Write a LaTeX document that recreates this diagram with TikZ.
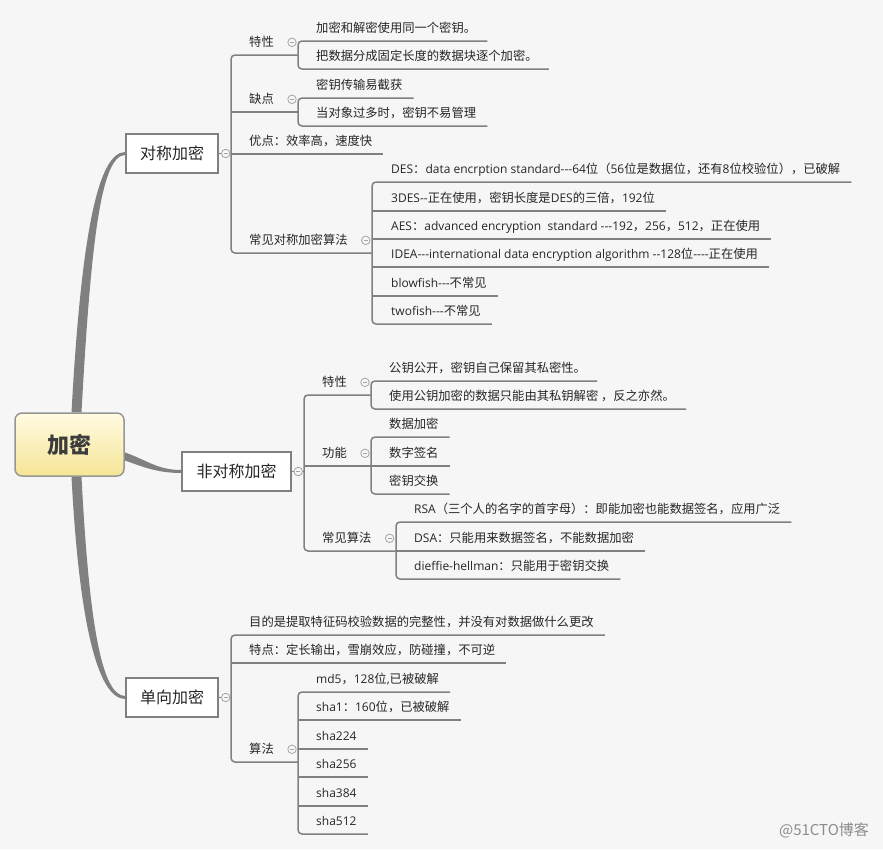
\documentclass[tikz,border=0pt]{standalone}
\usepackage{fontspec}
\setmainfont{Noto Sans CJK SC}
\newfontfamily\latfont{Open Sans}
\newcommand\Lx[1]{{\latfont\fontsize{12}{14}\selectfont #1}}
\usetikzlibrary{backgrounds}
\definecolor{bg}{RGB}{246,246,246}
\definecolor{ln}{RGB}{128,128,128}
\definecolor{tx}{RGB}{38,38,38}
\definecolor{tg}{RGB}{165,165,165}
\definecolor{rtop}{RGB}{255,251,226}
\definecolor{rbot}{RGB}{245,229,150}
\definecolor{rbd}{RGB}{150,150,150}
\definecolor{wm}{RGB}{140,140,140}
\begin{document}
\begin{tikzpicture}[x=1pt,y=-1pt,
  leaf/.style={anchor=south west,inner xsep=0pt,inner ysep=0pt,text height=10.5pt,text depth=1.5pt,minimum height=25pt,font=\fontsize{12.3}{14}\selectfont,text=tx},
  conn/.style={draw=ln,line width=1.5pt},
  trunk/.style={conn,rounded corners=4pt},
  branch/.style={rectangle,draw=ln,line width=1.5pt,fill=white,minimum height=39pt,inner sep=0pt,font=\fontsize{16}{19}\selectfont,text=tx},
  rootbox/.style={rectangle,draw=rbd,line width=1.5pt,rounded corners=7pt,top color=rtop,bottom color=rbot,minimum width=109pt,minimum height=63pt,inner sep=0pt,font=\fontsize{22}{26}\selectfont\bfseries,text=tx!90},
  tog/.style={circle,draw=tg,fill=bg,line width=0.8pt,minimum size=8.5pt,inner sep=0pt,path picture={\draw[tg,line width=0.8pt] ([xshift=-2pt]path picture bounding box.center) -- ([xshift=2pt]path picture bounding box.center);}}
]
\useasboundingbox (0,0) rectangle (883,849);
% root and branches
\node[rootbox] (r) at (69.5,444.5) {加密};
\node[branch,minimum width=92pt] (b1) at (172,153.5) {对称加密};
\node[branch,minimum width=109pt] (b2) at (236.5,471.5) {非对称加密};
\node[branch,minimum width=92pt] (b3) at (172,697.5) {单向加密};
\begin{scope}[on background layer]
\fill[bg] (0,0) rectangle (883,849);
\fill[ln] ([xshift=2pt]r.north) .. controls +(9.5,-173) and +(-28,0) .. ([yshift=1.5pt]b1.west) -- ([yshift=-1.5pt]b1.west) .. controls +(-24,0) and +(9.5,-173) .. ([xshift=12pt]r.north) -- cycle;
\fill[ln] ([xshift=2pt]r.south) .. controls +(7.5,144) and +(-28,0) .. ([yshift=-1.5pt]b3.west) -- ([yshift=1.5pt]b3.west) .. controls +(-24,0) and +(7.5,144) .. ([xshift=12pt]r.south) -- cycle;
\fill[ln] ([xshift=-4pt,yshift=-6.5pt]r.east) .. controls +(25,8) and +(-25,0) .. ([yshift=1.5pt]b2.west) -- ([yshift=-1.5pt]b2.west) .. controls +(-25,0) and +(20,7) .. ([xshift=-4pt,yshift=-14.5pt]r.east) -- cycle;
\end{scope}
% trunk positions
\coordinate (T1) at (231,0);
\coordinate (T11) at (298,0);
\coordinate (T14) at (372,0);
\coordinate (T2) at (304,0);
\coordinate (T21) at (371,0);
\coordinate (T23) at (396,0);
\coordinate (T3) at (231,0);
\coordinate (T33) at (298,0);
% branch 1
\node[leaf] (s1) at (249,55) {特性};
\node[leaf] (s2) at (249,112) {缺点};
\node[leaf] (s3) at (249,154) {优点：效率高，速度快};
\node[leaf] (s4) at (249,253) {常见对称加密算法};
\node[leaf] (s11) at (316,41) {加密和解密使用同一个密钥。};
\node[leaf] (s12) at (316,69) {把数据分成固定长度的数据块逐个加密。};
\node[leaf] (s21) at (316,98) {密钥传输易截获};
\node[leaf] (s22) at (316,126) {当对象过多时，密钥不易管理};
\node[leaf] (s41) at (391,182) {\Lx{DES}：\Lx{data encrption standard-{}-{}-64}位（\Lx{56}位是数据位，还有\Lx{8}位校验位），已破解};
\node[leaf] (s42) at (391,211) {\Lx{3DES-{}-}正在使用，密钥长度是\Lx{DES}的三倍，\Lx{192}位};
\node[leaf] (s43) at (391,239) {\Lx{AES}：\Lx{advanced encryption~ standard -{}-{}-192}，\Lx{256}，\Lx{512}，正在使用};
\node[leaf] (s44) at (391,267) {\Lx{IDEA-{}-{}-international data encryption algorithm -{}-128}位\Lx{-{}-{}-{}-}正在使用};
\node[leaf] (s45) at (391,296) {\Lx{blowfish-{}-{}-}不常见};
\node[leaf] (s46) at (391,324) {\Lx{twofish-{}-{}-}不常见};
% branch 2
\node[leaf] (t1) at (322,395) {特性};
\node[leaf] (t2) at (322,466) {功能};
\node[leaf] (t3) at (322,551) {常见算法};
\node[leaf] (t11) at (389,381) {公钥公开，密钥自己保留其私密性。};
\node[leaf] (t12) at (389,409) {使用公钥加密的数据只能由其私钥解密 ，反之亦然。};
\node[leaf] (t21) at (389,437) {数据加密};
\node[leaf] (t22) at (389,466) {数字签名};
\node[leaf] (t23) at (389,494) {密钥交换};
\node[leaf] (t31) at (414,522) {\Lx{RSA}（三个人的名字的首字母）：即能加密也能数据签名，应用广泛};
\node[leaf] (t32) at (414,551) {\Lx{DSA}：只能用来数据签名，不能数据加密};
\node[leaf] (t33) at (414,579) {\Lx{dieffie-hellman}：只能用于密钥交换};
% branch 3
\node[leaf] (u1) at (249,635) {目的是提取特征码校验数据的完整性，并没有对数据做什么更改};
\node[leaf] (u2) at (249,663) {特点：定长输出，雪崩效应，防碰撞，不可逆};
\node[leaf] (u3) at (249,762) {算法};
\node[leaf] (u31) at (316,692) {\Lx{md5}，\Lx{128}位\Lx{,}已被破解};
\node[leaf] (u32) at (316,720) {\Lx{sha1}：\Lx{160}位，已被破解};
\node[leaf] (u33) at (316,749) {\Lx{sha224}};
\node[leaf] (u34) at (316,777) {\Lx{sha256}};
\node[leaf] (u35) at (316,806) {\Lx{sha384}};
\node[leaf] (u36) at (316,834) {\Lx{sha512}};
% connectors branch 1
\draw[conn] (b1.east) -- (T1 |- b1.east);
\draw[trunk] (T11 |- s1.south) -- (T1 |- s1.south) -- (T1 |- s4.south) -- (T14 |- s4.south);
\draw[conn] (T1 |- s2.south) -- (T11 |- s2.south);
\draw[conn] (T1 |- s3.south) -- ([xshift=11pt]s3.south east);
\draw[trunk] ([xshift=11pt]s11.south east) -- (T11 |- s11.south) -- (T11 |- s12.south) -- ([xshift=11pt]s12.south east);
\draw[trunk] ([xshift=11pt]s21.south east) -- (T11 |- s21.south) -- (T11 |- s22.south) -- ([xshift=11pt]s22.south east);
\draw[trunk] ([xshift=11pt]s41.south east) -- (T14 |- s41.south) -- (T14 |- s46.south) -- ([xshift=11pt]s46.south east);
\foreach \n in {s42,s43,s44,s45} \draw[conn] (T14 |- \n.south) -- ([xshift=11pt]\n.south east);
% connectors branch 2
\draw[conn] (b2.east) -- (T2 |- b2.east);
\draw[trunk] (T21 |- t1.south) -- (T2 |- t1.south) -- (T2 |- t3.south) -- (T23 |- t3.south);
\draw[conn] (T2 |- t2.south) -- (T21 |- t2.south);
\draw[trunk] ([xshift=11pt]t11.south east) -- (T21 |- t11.south) -- (T21 |- t12.south) -- ([xshift=11pt]t12.south east);
\draw[trunk] ([xshift=11pt]t21.south east) -- (T21 |- t21.south) -- (T21 |- t23.south) -- ([xshift=11pt]t23.south east);
\draw[conn] (T21 |- t22.south) -- ([xshift=11pt]t22.south east);
\draw[trunk] ([xshift=11pt]t31.south east) -- (T23 |- t31.south) -- (T23 |- t33.south) -- ([xshift=11pt]t33.south east);
\draw[conn] (T23 |- t32.south) -- ([xshift=11pt]t32.south east);
% connectors branch 3
\draw[conn] (b3.east) -- (T3 |- b3.east);
\draw[trunk] ([xshift=11pt]u1.south east) -- (T3 |- u1.south) -- (T3 |- u3.south) -- (T33 |- u3.south);
\draw[conn] (T3 |- u2.south) -- ([xshift=11pt]u2.south east);
\draw[trunk] ([xshift=11pt]u31.south east) -- (T33 |- u31.south) -- (T33 |- u36.south) -- ([xshift=11pt]u36.south east);
\foreach \n in {u32,u33,u34,u35} \draw[conn] (T33 |- \n.south) -- ([xshift=11pt]\n.south east);
% toggles
\node[tog] (k1) at ([xshift=7pt]b1.east) {};
\node[tog] (k11) at ([xshift=18pt]s1.east) {};
\node[tog] (k12) at ([xshift=18pt]s2.east) {};
\node[tog] (k14) at ([xshift=18pt]s4.east) {};
\node[tog] (k2) at ([xshift=6.5pt]b2.east) {};
\node[tog] (k21) at ([xshift=18pt]t1.east) {};
\node[tog] (k22) at ([xshift=18pt]t2.east) {};
\node[tog] (k23) at ([xshift=18pt]t3.east) {};
\node[tog] (k3) at ([xshift=7pt]b3.east) {};
\node[tog] (k33) at ([xshift=18pt]u3.east) {};
% watermark
\node[font=\fontsize{15}{18}\selectfont,text=wm] (wmk) at (824,830) {@51CTO博客};
\end{tikzpicture}
\end{document}
